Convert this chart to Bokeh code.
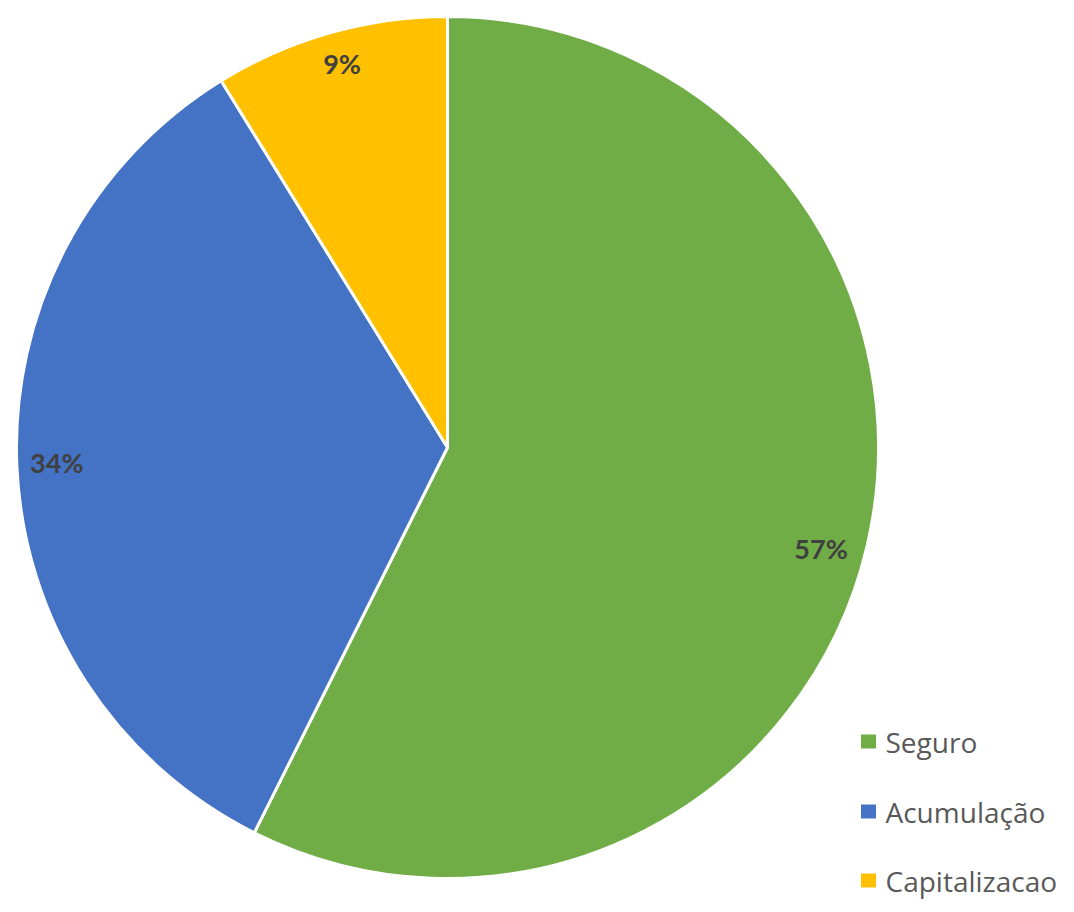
import math
from bokeh.plotting import figure
from bokeh.models import Range1d, ColumnDataSource
from bokeh.core.properties import value
from bokeh.embed import file_html
from bokeh.resources import INLINE

categories = ["Seguro", "Acumulação", "Capitalizacao"]
values = [57.4, 33.8, 8.8]
colors = ["#70AD47", "#4472C4", "#FFC000"]

W, H = 1058, 904
p = figure(width=W, height=H, output_backend="svg", toolbar_location=None,
           x_range=Range1d(0, W), y_range=Range1d(912 - H, 912),
           min_border=0)
p.axis.visible = False
p.grid.visible = False
p.outline_line_color = None
p.background_fill_color = "white"
p.border_fill_color = "white"

cx, cy, R = 447, 912 - 447, 431
# small per-label nudges (pixels) to mimic inside-end label placement
nudge = [(-6, -11), (-1, 2), (1, 9)]
total = sum(values)
starts, ends, lx, ly, labels = [], [], [], [], []
cum = 0.0
for v, (ndx, ndy) in zip(values, nudge):
    f0 = cum / total
    cum += v
    f1 = cum / total
    starts.append(math.pi / 2 - 2 * math.pi * f0)
    ends.append(math.pi / 2 - 2 * math.pi * f1)
    mid = (f0 + f1) / 2 * 2 * math.pi
    r = 0.905 * R
    lx.append(cx + r * math.sin(mid) + ndx)
    ly.append(cy + r * math.cos(mid) + ndy)
    labels.append(f"{round(v / total * 100)}%")

src = ColumnDataSource(dict(start=starts, end=ends, color=colors, lx=lx, ly=ly, label=labels))
p.wedge(x=cx, y=cy, radius=R, start_angle="start", end_angle="end", direction="clock",
        fill_color="color", line_color="white", line_width=3, source=src)
p.text(x="lx", y="ly", text="label", source=src, text_font=value("Lato"),
       text_font_style="bold", text_font_size="27px", text_color="#404040",
       text_align="center", text_baseline="middle")

# legend
leg_y = [912 - 741, 912 - 811, 912 - 880]
lsrc = ColumnDataSource(dict(y=leg_y, color=colors, name=categories))
p.rect(x=868, y="y", width=15, height=14, fill_color="color", line_color=None, source=lsrc)
p.text(x=885, y="y", text="name", source=lsrc, text_font=value("Open Sans"),
       text_font_size="28px", text_color="#595959", text_align="left",
       text_baseline="middle")

open("out.html", "w").write(file_html(p, INLINE))
